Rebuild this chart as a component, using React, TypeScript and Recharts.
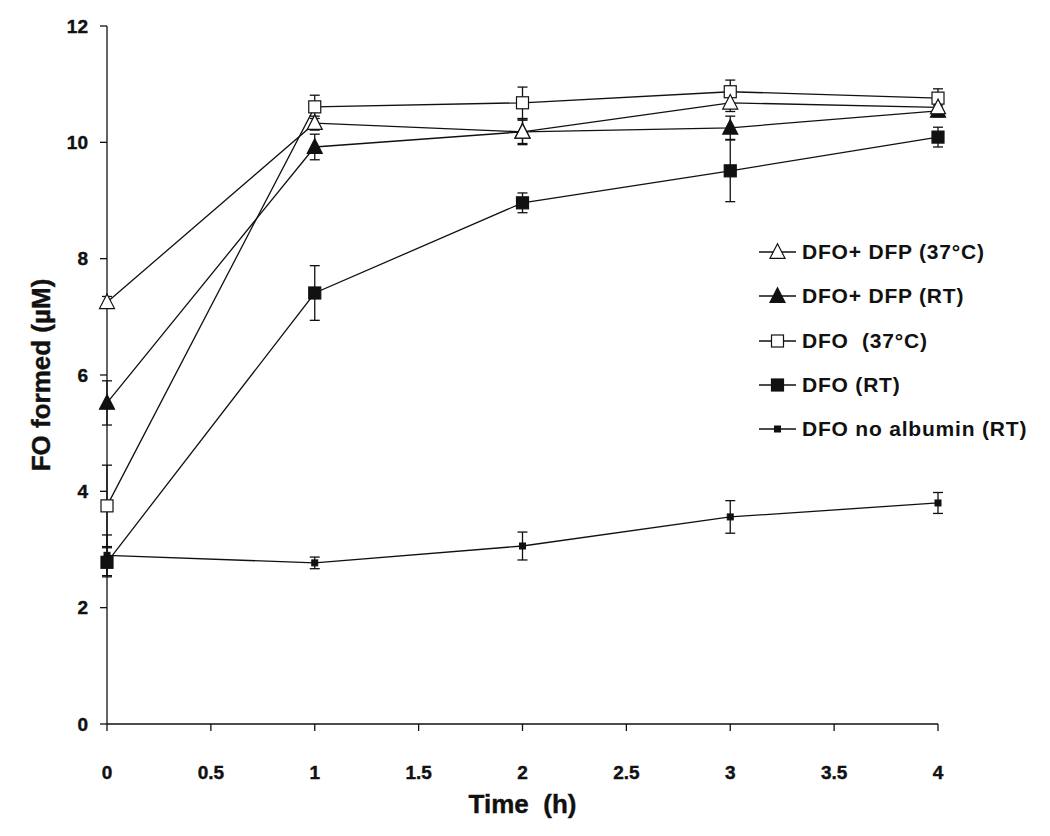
import React from 'react';
import { LineChart, Line, XAxis, YAxis, ErrorBar, Legend, Label } from 'recharts';

const times = [0, 1, 2, 3, 4];
const xTicks = [0, 0.5, 1, 1.5, 2, 2.5, 3, 3.5, 4];
const yTicks = [0, 2, 4, 6, 8, 10, 12];

const dfoDfp37 = [7.25, 10.33, 10.18, 10.68, 10.6];
const dfoDfp37Err = [0.1, 0.12, 0.2, 0.15, 0.1];
const dfoDfpRT = [5.52, 9.92, 10.18, 10.25, 10.54];
const dfoDfpRTErr = [0.38, 0.22, 0.22, 0.2, 0.1];
const dfo37 = [3.75, 10.61, 10.68, 10.87, 10.76];
const dfo37Err = [0.7, 0.2, 0.27, 0.2, 0.16];
const dfoRT = [2.78, 7.41, 8.96, 9.51, 10.09];
const dfoRTErr = [0.25, 0.47, 0.17, 0.53, 0.17];
const dfoNoAlb = [2.9, 2.77, 3.06, 3.56, 3.8];
const dfoNoAlbErr = [0.35, 0.1, 0.24, 0.28, 0.18];

const seriesNames = ['DFO+ DFP (37°C)', 'DFO+ DFP (RT)', 'DFO  (37°C)', 'DFO (RT)', 'DFO no albumin (RT)'];
const seriesKeys = ['a', 'b', 'c', 'd', 'e'];
const markerKinds = ['openTri', 'fillTri', 'openSq', 'fillSq', 'smallSq'];
const seriesValues = [dfoDfp37, dfoDfpRT, dfo37, dfoRT, dfoNoAlb];
const seriesErrors = [dfoDfp37Err, dfoDfpRTErr, dfo37Err, dfoRTErr, dfoNoAlbErr];

const rows = times.map((t, i) => {
  const r: any = { t };
  seriesKeys.forEach((k, s) => {
    r[k] = seriesValues[s][i];
    r[k + 'Err'] = seriesErrors[s][i];
  });
  return r;
});

const INK = '#111';
const FONT = '"Liberation Sans", Arial, sans-serif';

function Marker({ kind, cx, cy }: { kind: string; cx: number; cy: number }) {
  if (kind === 'openTri' || kind === 'fillTri') {
    const s = 15;
    const pts = `${cx},${cy - s * 0.55} ${cx - s / 2},${cy + s * 0.42} ${cx + s / 2},${cy + s * 0.42}`;
    return <polygon points={pts} fill={kind === 'openTri' ? '#fff' : INK} stroke={INK} strokeWidth={1.2} />;
  }
  if (kind === 'openSq' || kind === 'fillSq') {
    const s = 12;
    return <rect x={cx - s / 2} y={cy - s / 2} width={s} height={s} fill={kind === 'openSq' ? '#fff' : INK} stroke={INK} strokeWidth={1.2} />;
  }
  const s = 6;
  return <rect x={cx - s / 2} y={cy - s / 2} width={s} height={s} fill={INK} stroke={INK} strokeWidth={1} />;
}

const makeDot = (kind: string) => (props: any) => {
  const { cx, cy, index } = props;
  if (cx == null || cy == null) return <g key={`${kind}-${index}`} />;
  return (
    <g key={`${kind}-${index}`}>
      <Marker kind={kind} cx={cx} cy={cy} />
    </g>
  );
};

const renderLegend = () => (
  <div style={{ fontFamily: FONT, fontWeight: 'bold', fontSize: 21, color: INK }}>
    {seriesNames.map((name, i) => (
      <div key={name} style={{ display: 'flex', alignItems: 'center', height: 44.3 }}>
        <svg width={44} height={24} style={{ display: 'block' }}>
          <line x1={1} y1={12} x2={38} y2={12} stroke={INK} strokeWidth={1.3} />
          <Marker kind={markerKinds[i]} cx={19.5} cy={12} />
        </svg>
        <span style={{ whiteSpace: 'pre', letterSpacing: 0.8 }}>{name}</span>
      </div>
    ))}
  </div>
);

const tickStyle = { fontFamily: FONT, fontWeight: 'bold', fontSize: 19, fill: INK, stroke: INK, strokeWidth: 0.4 };
const axisLabelStyle = { fontFamily: FONT, fontWeight: 'bold', fontSize: 26, fill: INK, stroke: INK, strokeWidth: 0.4 };

export default function App() {
  const order = [4, 3, 1, 2, 0];
  return (
    <div style={{ width: 1034, height: 820, position: 'relative' }}>
      <LineChart width={1034} height={820} data={rows} margin={{ top: 18, right: 104, bottom: 34, left: 39 }}>
        <XAxis
          type="number"
          dataKey="t"
          domain={[0, 4]}
          ticks={xTicks}
          height={70}
          tickSize={7}
          tickMargin={35}
          tick={tickStyle}
          stroke={INK}
          strokeWidth={1.3}
          tickLine={{ stroke: INK, strokeWidth: 1.3 }}
        >
          <Label value={'Time\u00A0\u00A0(h)'} position="bottom" offset={1} style={axisLabelStyle} />
        </XAxis>
        <YAxis
          type="number"
          domain={[0, 12]}
          ticks={yTicks}
          width={60}
          tickSize={7}
          tickMargin={12}
          tick={tickStyle}
          stroke={INK}
          strokeWidth={1.3}
          tickLine={{ stroke: INK, strokeWidth: 1.3 }}
        >
          <Label value="FO formed (µM)" angle={-90} position="center" dx={-36} style={axisLabelStyle} />
        </YAxis>
        {order.map((s) => (
          <Line
            key={seriesKeys[s]}
            type="linear"
            dataKey={seriesKeys[s]}
            name={seriesNames[s]}
            stroke={INK}
            strokeWidth={1.3}
            dot={makeDot(markerKinds[s])}
            activeDot={false}
            isAnimationActive={false}
          >
            <ErrorBar dataKey={seriesKeys[s] + 'Err'} width={5} stroke={INK} strokeWidth={1.3} direction="y" />
          </Line>
        ))}
        <Legend
          layout="vertical"
          align="center"
          verticalAlign="middle"
          content={renderLegend}
          wrapperStyle={{ position: 'absolute', left: 750, top: 222, width: 300 }}
        />
      </LineChart>
    </div>
  );
}
